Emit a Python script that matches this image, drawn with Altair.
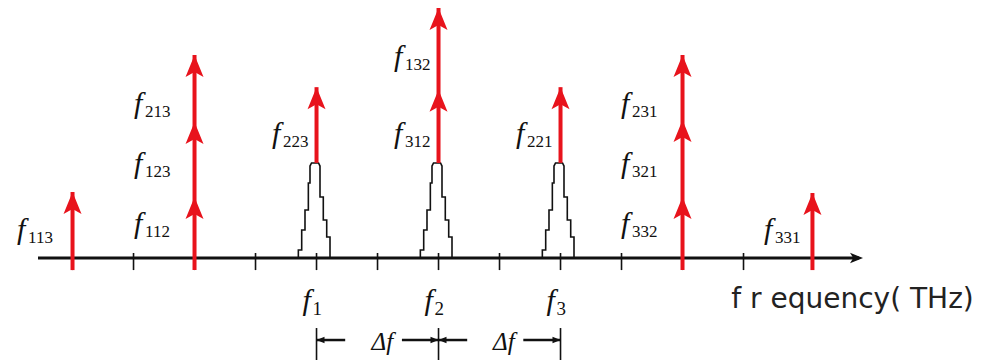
import altair as alt
import pandas as pd

# ---------------- data (x: tick-slot units, f1 = 0; y: amplitude units, axis = 0) -------------
tick_slots = [-4, -3, -2, -1, 0, 1, 2, 3, 4, 5, 6, 7]

arrow_slot = [-4.0, -2.0, 0.0, 2.0, 4.0, 6.0, 8.13]
arrow_base = [-0.18, -0.18, 1.42, 1.42, 1.42, -0.18, -0.18]
arrow_tips = [[0.985], [0.91, 2.03, 3.03], [2.55], [2.51, 3.73], [2.55], [0.91, 2.06, 3.03], [0.97]]

carrier_slot = [0, 2, 4]
carrier_sub = ["1", "2", "3"]
peak_dx = [-0.298, -0.298, -0.243, -0.243, -0.189, -0.189, -0.134, -0.134, -0.107, -0.107,
           -0.082, 0.033, 0.057, 0.057, 0.111, 0.111, 0.167, 0.167, 0.221, 0.221]
peak_h = [0, 0.119, 0.119, 0.418, 0.418, 0.716, 0.716, 1.119, 1.119, 1.373,
          1.418, 1.418, 1.373, 0.910, 0.910, 0.567, 0.567, 0.313, 0.313, 0]

label_sub = ["113", "112", "123", "213", "223", "312", "132", "221", "231", "321", "332", "331"]
label_x = [-4.975, -3.057, -3.057, -3.057, -0.795, 1.205, 1.205, 3.205, 4.926, 4.926, 4.926, 7.270]
label_y = [0.224, 0.313, 1.209, 2.104, 1.657, 1.657, 2.806, 1.657, 2.104, 1.209, 0.313, 0.224]

dim_bar_slot = [0, 2, 4]
dim_seg_start = [0.0, 1.40, 2.0, 3.39]
dim_seg_end = [0.47, 2.0, 2.47, 4.0]
dim_head_slot = [0.0, 2.0, 2.0, 4.0]
dim_head_dir = ["left", "right", "left", "right"]
dim_text_x = [1.08, 3.07]

axis_start, axis_end, axis_tip = -4.566, 8.893, 8.959
freq_label = "f r equency( THz)"
freq_label_x, freq_label_y = 6.80, -0.746

# ---------------- layout constants ----------------
X_DOMAIN = [-5.189, 10.926]
Y_DOMAIN = [-1.552, 3.851]
RED = "#e8131c"
INK = "#111111"
DIM_Y, DIM_BAR_TOP, DIM_BAR_BOT, DIM_TEXT_Y = -1.224, -1.045, -1.522, -1.37
TICK_TOP, TICK_BOT = 0.075, -0.18
BOTTOM_LABEL_Y = -0.851

xs = alt.Scale(domain=X_DOMAIN, nice=False, zero=False)
ys = alt.Scale(domain=Y_DOMAIN, nice=False, zero=False)


def ex(f):
    return alt.X(f, type="quantitative", scale=xs, axis=None)


def ey(f):
    return alt.Y(f, type="quantitative", scale=ys, axis=None)


# ---------------- tables ----------------
axis_df = pd.DataFrame({"x": [axis_start], "x2": [axis_end], "y": [0.0]})
axis_head_df = pd.DataFrame({"x": [axis_tip], "y": [0.0]})
ticks_df = pd.DataFrame({"x": tick_slots, "y": TICK_BOT, "y2": TICK_TOP})

peak_rows = []
for k, c in enumerate(carrier_slot):
    for i, (dx, h) in enumerate(zip(peak_dx, peak_h)):
        peak_rows.append({"peak": k, "i": i, "x": c + dx, "y": h})
peaks_df = pd.DataFrame(peak_rows)

arrow_df = pd.DataFrame({"x": arrow_slot, "y": arrow_base, "y2": [max(t) for t in arrow_tips]})
head_rows = []
for s, tips in zip(arrow_slot, arrow_tips):
    for t in tips:
        head_rows.append({"x": s, "y": t})
heads_df = pd.DataFrame(head_rows)

labels_df = pd.DataFrame({"x": label_x, "y": label_y, "sub": label_sub, "f": "f"})
bottom_df = pd.DataFrame({"x": carrier_slot, "y": BOTTOM_LABEL_Y, "sub": carrier_sub, "f": "f"})

dim_bar_df = pd.DataFrame({"x": dim_bar_slot, "y": DIM_BAR_BOT, "y2": DIM_BAR_TOP})
dim_seg_df = pd.DataFrame({"x": dim_seg_start, "x2": dim_seg_end, "y": DIM_Y})
dim_head_df = pd.DataFrame({"x": dim_head_slot, "y": DIM_Y, "dir": dim_head_dir})
dim_text_df = pd.DataFrame({"x": dim_text_x, "y": DIM_TEXT_Y, "t": "Δf"})
freq_df = pd.DataFrame({"x": [freq_label_x], "y": [freq_label_y], "t": [freq_label]})

# ---------------- layers ----------------
axis_line = alt.Chart(axis_df).mark_rule(color=INK, strokeWidth=3).encode(
    x=ex("x"), x2=alt.X2("x2"), y=ey("y"))
axis_head = alt.Chart(axis_head_df).mark_point(
    shape="M0,0 L-2,-0.8 L-1.5,0 L-2,0.8 Z", size=169, filled=True, color=INK, opacity=1
).encode(x=ex("x"), y=ey("y"))
ticks = alt.Chart(ticks_df).mark_rule(color=INK, strokeWidth=1.6).encode(
    x=ex("x"), y=ey("y"), y2=alt.Y2("y2"))
peaks = alt.Chart(peaks_df).mark_line(color=INK, strokeWidth=1.6).encode(
    x=ex("x"), y=ey("y"), detail="peak:N", order=alt.Order("i:Q"))
red_lines = alt.Chart(arrow_df).mark_rule(color=RED, strokeWidth=4).encode(
    x=ex("x"), y=ey("y"), y2=alt.Y2("y2"))
red_heads = alt.Chart(heads_df).mark_point(
    shape="M0,0 L0.9,2.2 L0,1.7 L-0.9,2.2 Z", size=400, filled=True, color=RED, opacity=1
).encode(x=ex("x"), y=ey("y"))

lab_f = alt.Chart(labels_df).mark_text(
    align="left", baseline="alphabetic", font="Liberation Serif", fontStyle="italic",
    fontSize=30, dx=4, dy=-4, color=INK
).encode(x=ex("x"), y=ey("y"), text="f:N")
lab_sub = alt.Chart(labels_df).mark_text(
    align="left", baseline="alphabetic", font="Liberation Serif", fontSize=17, dx=15, color=INK
).encode(x=ex("x"), y=ey("y"), text="sub:N")

bot_f = alt.Chart(bottom_df).mark_text(
    align="left", baseline="alphabetic", font="Liberation Serif", fontStyle="italic",
    fontSize=30, dx=-14, dy=-5, color=INK
).encode(x=ex("x"), y=ey("y"), text="f:N")
bot_sub = alt.Chart(bottom_df).mark_text(
    align="left", baseline="alphabetic", font="Liberation Serif", fontSize=19, dx=-4, color=INK
).encode(x=ex("x"), y=ey("y"), text="sub:N")

dim_bars = alt.Chart(dim_bar_df).mark_rule(color=INK, strokeWidth=1.6).encode(
    x=ex("x"), y=ey("y"), y2=alt.Y2("y2"))
dim_segs = alt.Chart(dim_seg_df).mark_rule(color=INK, strokeWidth=2.5).encode(
    x=ex("x"), x2=alt.X2("x2"), y=ey("y"))
dim_heads_l = alt.Chart(dim_head_df).transform_filter(alt.datum.dir == "left").mark_point(
    shape="M0,0 L2,-0.8 L2,0.8 Z", size=64, filled=True, color=INK, opacity=1
).encode(x=ex("x"), y=ey("y"))
dim_heads_r = alt.Chart(dim_head_df).transform_filter(alt.datum.dir == "right").mark_point(
    shape="M0,0 L-2,-0.8 L-2,0.8 Z", size=64, filled=True, color=INK, opacity=1
).encode(x=ex("x"), y=ey("y"))
dim_text = alt.Chart(dim_text_df).mark_text(
    align="center", baseline="alphabetic", font="Liberation Serif", fontStyle="italic",
    fontSize=25, color=INK
).encode(x=ex("x"), y=ey("y"), text="t:N")

freq_text = alt.Chart(freq_df).mark_text(
    align="left", baseline="alphabetic", font="DejaVu Sans", fontSize=28, color="#222222"
).encode(x=ex("x"), y=ey("y"), text="t:N")

chart = alt.layer(
    axis_line, ticks, peaks, axis_head, red_lines, red_heads,
    lab_f, lab_sub, bot_f, bot_sub,
    dim_bars, dim_segs, dim_heads_l, dim_heads_r, dim_text, freq_text
).properties(
    width=983, height=362, padding=0, autosize=alt.AutoSizeParams(type="none"),
    background="white"
).configure_view(stroke=None)

chart.save("out.html", embed_options={"renderer": "svg", "actions": False})
